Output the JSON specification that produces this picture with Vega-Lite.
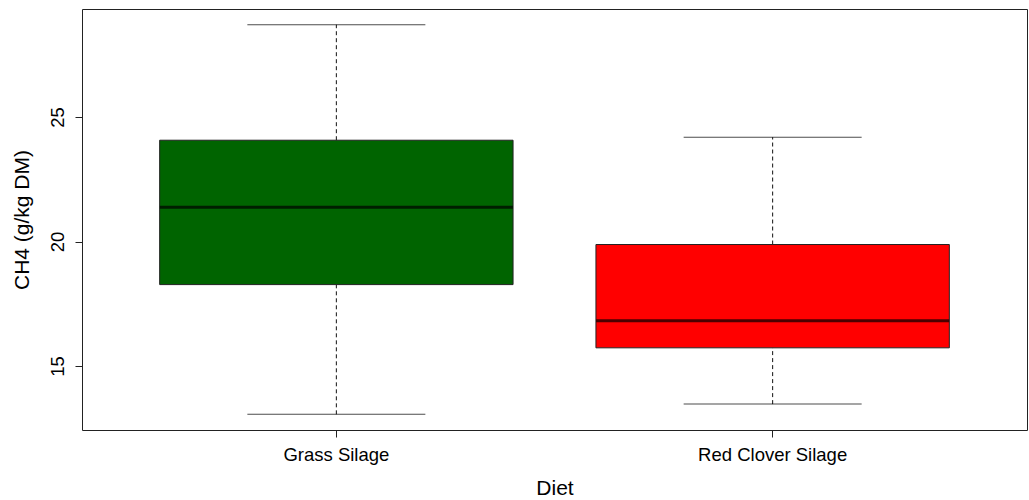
{
  "$schema": "https://vega.github.io/schema/vega-lite/v6.json",
  "width": 945,
  "height": 421,
  "autosize": {"type": "none"},
  "padding": {"left": 82, "top": 9, "right": 2, "bottom": 70},
  "background": "white",
  "config": {
    "view": {"stroke": "#222", "strokeWidth": 1},
    "font": "Liberation Sans",
    "axis": {"grid": false, "domain": false, "tickColor": "#222", "tickSize": 7, "labelColor": "black", "titleColor": "black", "labelFont": "Liberation Sans", "titleFont": "Liberation Sans", "titleFontWeight": "normal"}
  },
  "data": {"values": [
    {"diet": "Grass Silage", "lower": 13.06, "q1": 18.27, "median": 21.38, "q3": 24.07, "upper": 28.71},
    {"diet": "Red Clover Silage", "lower": 13.47, "q1": 15.73, "median": 16.82, "q3": 19.88, "upper": 24.19}
  ]},
  "encoding": {
    "x": {"field": "diet", "type": "nominal", "sort": null,
      "scale": {"paddingInner": 0.19, "paddingOuter": 0.178},
      "axis": {"title": "Diet", "labelAngle": 0, "labelFontSize": 18.5, "titleFontSize": 21, "labelPadding": 8, "titlePadding": 14}}
  },
  "layer": [
    {"mark": {"type": "rule", "strokeDash": [4, 3], "color": "#111", "strokeWidth": 1},
     "encoding": {"y": {"field": "lower", "type": "quantitative",
        "scale": {"domain": [12.43, 29.34], "nice": false, "zero": false},
        "axis": {"title": "CH4 (g/kg DM)", "values": [15, 20, 25], "labelAngle": -90, "labelAlign": "center", "labelBaseline": "bottom", "labelFontSize": 18.5, "titleFontSize": 21, "labelPadding": 8, "titlePadding": 16}},
      "y2": {"field": "q1"}}},
    {"mark": {"type": "rule", "strokeDash": [4, 3], "color": "#111", "strokeWidth": 1},
     "encoding": {"y": {"field": "q3", "type": "quantitative"}, "y2": {"field": "upper"}}},
    {"mark": {"type": "tick", "color": "#000", "size": 178, "thickness": 1},
     "encoding": {"y": {"field": "lower", "type": "quantitative"}}},
    {"mark": {"type": "tick", "color": "#000", "size": 178, "thickness": 1},
     "encoding": {"y": {"field": "upper", "type": "quantitative"}}},
    {"mark": {"type": "bar", "stroke": "#222", "strokeWidth": 1},
     "encoding": {"y": {"field": "q1", "type": "quantitative"}, "y2": {"field": "q3"},
       "color": {"field": "diet", "type": "nominal", "legend": null,
         "scale": {"domain": ["Grass Silage", "Red Clover Silage"], "range": ["#006400", "#FF0000"]}}}},
    {"mark": {"type": "tick", "color": "black", "size": 353, "thickness": 3},
     "encoding": {"y": {"field": "median", "type": "quantitative"}}}
  ]
}
